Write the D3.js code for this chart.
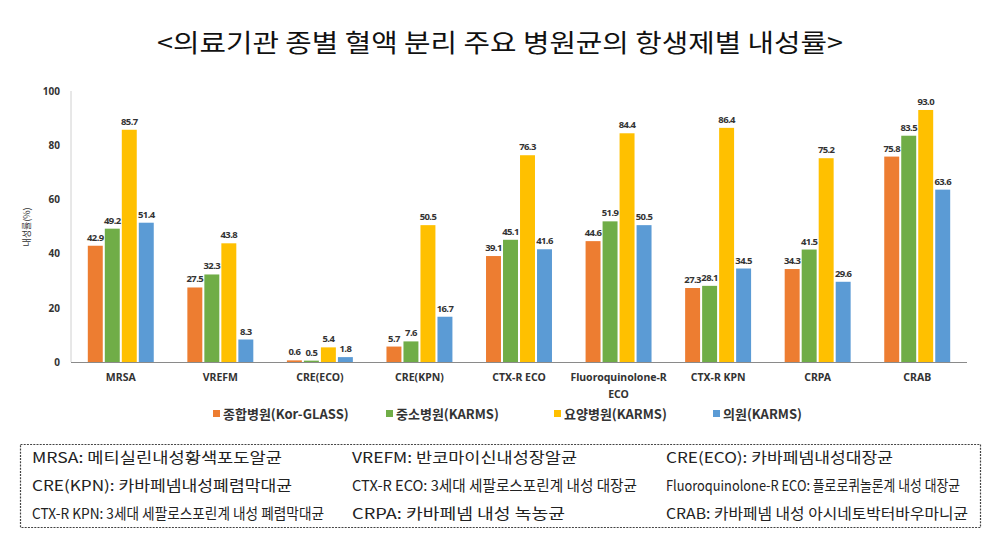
<!DOCTYPE html>
<html><head><meta charset="utf-8">
<script src="https://cdn.jsdelivr.net/npm/d3@7/dist/d3.min.js"></script>
<style>
body{margin:0;background:#fff;}
text{font-family:"Noto Sans CJK KR","Noto Sans",sans-serif;}
</style></head>
<body><svg id="c" width="1004" height="550"></svg>
<script>
const categories = ["MRSA","VREFM","CRE(ECO)","CRE(KPN)","CTX-R ECO","Fluoroquinolone-R ECO","CTX-R KPN","CRPA","CRAB"];
const seriesNames = ["종합병원(Kor-GLASS)","중소병원(KARMS)","요양병원(KARMS)","의원(KARMS)"];
const general  = [42.9,27.5,0.6,5.7,39.1,44.6,27.3,34.3,75.8];
const smallMid = [49.2,32.3,0.5,7.6,45.1,51.9,28.1,41.5,83.5];
const nursing  = [85.7,43.8,5.4,50.5,76.3,84.4,86.4,75.2,93.0];
const clinic   = [51.4,8.3,1.8,16.7,41.6,50.5,34.5,29.6,63.6];
const yTicks = [0,20,40,60,80,100];
const notes = [
  "MRSA: 메티실린내성황색포도알균","VREFM: 반코마이신내성장알균","CRE(ECO): 카바페넴내성대장균",
  "CRE(KPN): 카바페넴내성폐렴막대균","CTX-R ECO: 3세대 세팔로스포린계 내성 대장균","Fluoroquinolone-R ECO: 플로로퀴놀론계 내성 대장균",
  "CTX-R KPN: 3세대 세팔로스포린계 내성 폐렴막대균","CRPA: 카바페넴 내성 녹농균","CRAB: 카바페넴 내성 아시네토박터바우마니균"
];

const colors = ["#ED7D31","#70AD47","#FFC000","#5B9BD5"];
const seriesVals = [general, smallMid, nursing, clinic];
const svg = d3.select("#c");

// title
svg.append("text").attr("x",500).attr("y",52).attr("text-anchor","middle")
  .attr("font-size",25).attr("fill","#111").attr("textLength",686).attr("lengthAdjust","spacingAndGlyphs")
  .text("<의료기관 종별 혈액 분리 주요 병원균의 항생제별 내성률>");

const x = d3.scaleBand().domain(categories).range([71,967]);
const xi = d3.scaleBand().domain(d3.range(4)).range([16.8, x.bandwidth()-16.8]).paddingInner(0.12);
const y = d3.scaleLinear().domain([0,100]).range([362,91]);

// y axis
svg.append("line").attr("x1",71).attr("x2",71).attr("y1",y(100)).attr("y2",y(0)).attr("stroke","#d0d0d0");
const ya = svg.append("g").attr("transform","translate(71,0)")
  .call(d3.axisLeft(y).tickValues(yTicks).tickSize(0).tickPadding(11));
ya.select(".domain").remove();
ya.selectAll("text").attr("font-size",10).attr("font-weight","bold").attr("fill","#333")
  .style("font-family","'Noto Sans','Noto Sans CJK KR',sans-serif");

svg.append("text").attr("transform","translate(30,227) rotate(-90)").attr("text-anchor","middle")
  .attr("font-size",9).attr("fill","#333").text("내성률(%)");

// bars
const g = svg.append("g");
categories.forEach((c,ci)=>{
  seriesVals.forEach((vals,si)=>{
    const v = vals[ci];
    const bx = x(c)+xi(si);
    g.append("rect").attr("x",bx).attr("y",y(v)).attr("width",xi.bandwidth())
      .attr("height",y(0)-y(v)).attr("fill",colors[si]);
    g.append("text").attr("x",bx+xi.bandwidth()/2).attr("y",y(v)-5).attr("text-anchor","middle")
      .attr("font-size",9.5).attr("font-weight","bold").attr("fill","#333")
      .attr("letter-spacing",-0.6)
      .style("font-family","'Noto Sans',sans-serif")
      .text(v.toFixed(1));
  });
});

// x axis
svg.append("line").attr("x1",71).attr("x2",967).attr("y1",y(0)+0.5).attr("y2",y(0)+0.5).attr("stroke","#8a8a8a");
categories.forEach(c=>{
  const t = svg.append("text").attr("x",x(c)+x.bandwidth()/2).attr("y",381).attr("text-anchor","middle")
    .attr("font-size",10.5).attr("font-weight","bold").attr("fill","#333")
    .style("font-family","'Noto Sans',sans-serif");
  if (c==="Fluoroquinolone-R ECO") {
    t.append("tspan").attr("x",x(c)+x.bandwidth()/2).text("Fluoroquinolone-R");
    t.append("tspan").attr("x",x(c)+x.bandwidth()/2).attr("dy",17).text("ECO");
  } else t.text(c);
});

// legend
const legX = [213,386,554,713];
seriesNames.forEach((n,i)=>{
  svg.append("rect").attr("x",legX[i]).attr("y",410).attr("width",7).attr("height",7).attr("fill",colors[i]);
  svg.append("text").attr("x",legX[i]+10).attr("y",418.5).attr("font-size",13).attr("font-weight","bold")
    .attr("fill","#333").text(n);
});

// notes box
svg.append("rect").attr("x",20.5).attr("y",444.5).attr("width",960).attr("height",83)
  .attr("fill","none").attr("stroke","#444").attr("stroke-width",1.2).attr("stroke-dasharray","2,1.2");
const colX = [32,352,666];
const rowY = [463,491,519];
const widths = [250,225,227,260,285,294,292,213,302];
notes.forEach((n,i)=>{
  svg.append("text").attr("x",colX[i%3]).attr("y",rowY[Math.floor(i/3)])
    .attr("font-size",14.5).attr("fill","#222")
    .attr("textLength",widths[i]).attr("lengthAdjust","spacingAndGlyphs").text(n);
});
</script></body></html>
